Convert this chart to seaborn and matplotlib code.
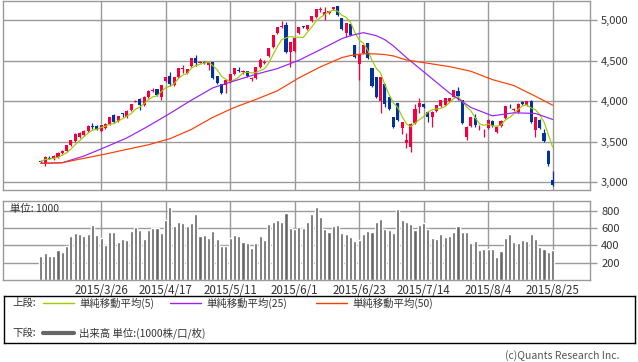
import matplotlib
matplotlib.use("Agg")

import matplotlib.pyplot as plt
import seaborn as sns
import pandas as pd

# daily candles, index 0..119
opens = [3258, 3234, 3300, 3283, 3308, 3357, 3382, 3456, 3506, 3560,
         3580, 3629, 3692, 3691, 3629, 3666, 3716, 3827, 3753, 3845,
         3802, 3889, 3995, 4025, 3950, 4049, 4130, 4148, 4049, 4247,
         4308, 4197, 4296, 4395, 4345, 4432, 4531, 4478, 4490, 4444,
         4481, 4308, 4210, 4200, 4234, 4333, 4385, 4365, 4370, 4280,
         4284, 4420, 4478, 4555, 4667, 4839, 4918, 4938, 4605, 4617,
         4839, 4925, 4889, 4987, 5037, 5130, 5062, 5086, 5136, 5173,
         5025, 4839, 4950, 4691, 4457, 4592, 4716, 4407, 4296, 4000,
         4210, 4049, 3802, 3975, 3666, 3481, 3432, 3728, 3926, 3963,
         3864, 3802, 3876, 3938, 3950, 4000, 4049, 4123, 4012, 3555,
         3691, 3790, 3675, 3625, 3666, 3753, 3617, 3691, 3790, 3945,
         3895, 3864, 3985, 3950, 4000, 3641, 3765, 3604, 3382, 3024]
closes = [3250, 3308, 3290, 3320, 3357, 3382, 3456, 3518, 3592, 3600,
          3629, 3691, 3686, 3654, 3703, 3716, 3802, 3740, 3815, 3838,
          3876, 3963, 4003, 3950, 4049, 4123, 4138, 4074, 4197, 4296,
          4210, 4296, 4407, 4405, 4395, 4531, 4469, 4486, 4470, 4481,
          4284, 4222, 4098, 4265, 4333, 4407, 4375, 4372, 4308, 4288,
          4420, 4506, 4486, 4654, 4815, 4913, 4935, 4605, 4728, 4778,
          4913, 4915, 4938, 5049, 5136, 5138, 5099, 5111, 5160, 5062,
          4889, 4963, 4815, 4543, 4580, 4691, 4531, 4185, 4049, 4296,
          3963, 3901, 3679, 3765, 3740, 3518, 3716, 3901, 3975, 3926,
          3802, 3864, 3950, 4012, 4037, 4037, 4135, 4061, 3728, 3679,
          3802, 3703, 3683, 3633, 3765, 3691, 3679, 3753, 3938, 3935,
          3905, 3963, 3970, 4000, 3740, 3802, 3666, 3506, 3222, 2962]
highs = [3270, 3315, 3320, 3330, 3365, 3395, 3462, 3525, 3600, 3615,
         3640, 3700, 3728, 3700, 3710, 3725, 3810, 3840, 3820, 3852,
         3885, 3970, 4010, 4035, 4060, 4135, 4160, 4155, 4205, 4305,
         4360, 4305, 4415, 4445, 4400, 4540, 4570, 4495, 4500, 4490,
         4490, 4315, 4215, 4275, 4340, 4415, 4420, 4385, 4378, 4300,
         4428, 4530, 4510, 4662, 4822, 4920, 4990, 4980, 4735, 4785,
         4920, 4935, 4945, 5060, 5145, 5160, 5160, 5120, 5168, 5180,
         5032, 4970, 4958, 4700, 4588, 4700, 4725, 4415, 4305, 4305,
         4218, 4057, 3810, 3983, 3748, 3600, 3724, 3960, 4040, 3970,
         3872, 3872, 3958, 4020, 4045, 4045, 4143, 4180, 4020, 3687,
         3810, 3840, 3700, 3650, 3773, 3761, 3687, 3761, 3946, 3960,
         3920, 3971, 4000, 4008, 4010, 3810, 3773, 3650, 3390, 3130]
lows = [3240, 3200, 3280, 3275, 3300, 3345, 3375, 3450, 3500, 3550,
        3570, 3620, 3650, 3645, 3615, 3660, 3710, 3730, 3745, 3800,
        3795, 3880, 3985, 3890, 3940, 4040, 4115, 4065, 4020, 4240,
        4185, 4190, 4290, 4350, 4335, 4425, 4430, 4470, 4465, 4390,
        4275, 4215, 4090, 4100, 4225, 4325, 4360, 4340, 4300, 4250,
        4275, 4410, 4460, 4548, 4660, 4830, 4910, 4600, 4420, 4610,
        4830, 4905, 4880, 4980, 5030, 5110, 5000, 5078, 5128, 5055,
        4880, 4790, 4808, 4535, 4259, 4585, 4525, 4178, 4040, 3851,
        3930, 3895, 3672, 3758, 3590, 3420, 3370, 3720, 3850, 3918,
        3740, 3680, 3868, 3930, 3942, 3992, 4041, 4020, 3720, 3520,
        3683, 3680, 3640, 3560, 3658, 3683, 3609, 3683, 3782, 3920,
        3880, 3856, 3955, 3942, 3732, 3560, 3658, 3498, 3200, 2955]
volumes = [277, 316, 277, 277, 347, 324, 393, 509, 543, 532,
           509, 532, 636, 524, 482, 405, 555, 555, 439, 474,
           462, 566, 613, 578, 474, 578, 601, 601, 543, 694,
           848, 624, 670, 659, 624, 659, 763, 509, 520, 486,
           566, 474, 393, 393, 486, 520, 509, 439, 428, 370,
           428, 509, 462, 647, 670, 694, 670, 775, 601, 590,
           613, 601, 670, 763, 844, 728, 586, 555, 624, 636,
           543, 532, 497, 451, 462, 532, 566, 555, 670, 705,
           590, 578, 543, 821, 694, 670, 647, 578, 636, 659,
           586, 486, 474, 532, 497, 509, 555, 624, 555, 555,
           428, 451, 347, 358, 358, 358, 266, 335, 486, 532,
           439, 428, 462, 451, 532, 474, 381, 358, 324, 347]

# longer moving averages
ma_days = [0, 5, 10, 15, 20, 25, 30, 35, 40, 45, 50, 55, 60, 65, 70,
           72, 75, 78, 80, 82, 85, 90, 95, 100, 105, 110, 115, 119]
ma25 = [3230, 3238, 3320, 3430, 3545, 3691, 3848, 4012, 4165, 4251, 4333, 4403,
        4506, 4638, 4774, 4811, 4848, 4811, 4761, 4683, 4540, 4321, 4102, 3922,
        3818, 3856, 3848, 3774]
ma50 = [3230, 3238, 3292, 3345, 3403, 3460, 3535, 3650, 3800, 3922, 4021, 4128,
        4288, 4424, 4539, 4565, 4588, 4585, 4576, 4560, 4510, 4469, 4428, 4370,
        4267, 4193, 4061, 3950]

date_pos = [14, 29, 44, 59, 74, 89, 104, 119]
date_labels = ["2015/3/26", "2015/4/17", "2015/5/11", "2015/6/1",
               "2015/6/23", "2015/7/14", "2015/8/4", "2015/8/25"]
price_ticks = [3000, 3500, 4000, 4500, 5000]
vol_ticks = [200, 400, 600, 800]

UP = "#f5003d"
DOWN = "#00339a"
GRID = "#9a9a9a"
TXT = "#333333"

sns.set_theme(style="white")
plt.rcParams["font.family"] = ["Noto Sans CJK JP", "DejaVu Sans"]

df = pd.DataFrame({"day": range(len(closes)), "open": opens, "close": closes,
                   "high": highs, "low": lows, "volume": volumes})
df["ma5"] = df["close"].rolling(5, min_periods=1).mean()
ma = pd.DataFrame({"day": ma_days, "ma25": ma25, "ma50": ma50})

W, H = 638, 362
fig = plt.figure(figsize=(W / 100, H / 100), dpi=100)
ax = fig.add_axes([3 / W, 1 - 190 / H, 587 / W, 189 / H])
axv = fig.add_axes([3 / W, 1 - 280 / H, 587 / W, 79 / H])

# price panel
up = df["close"] >= df["open"]
colors = [UP if u else DOWN for u in up]
body_lo = df[["open", "close"]].min(axis=1)
body_h = (df["close"] - df["open"]).abs().clip(lower=10)
ax.vlines(df["day"], df["low"], df["high"], colors=colors, lw=0.9, zorder=2)
ax.bar(df["day"], body_h, bottom=body_lo, width=0.72, color=colors, lw=0, zorder=2)
sns.lineplot(data=df, x="day", y="ma5", color="#9fcb00", lw=0.85, ax=ax, zorder=3)
sns.lineplot(data=ma, x="day", y="ma25", color="#9b1ff2", lw=0.85, ax=ax, zorder=3)
sns.lineplot(data=ma, x="day", y="ma50", color="#ff3c00", lw=0.85, ax=ax, zorder=3)

# volume panel
sns.barplot(data=df, x="day", y="volume", color="#666666", saturation=1,
            width=0.72, native_scale=True, errorbar=None, ax=axv, zorder=2)

for a, ylim, yt in [(ax, (2900, 5240), price_ticks), (axv, (0, 915), vol_ticks)]:
    a.set_xlim(-8.8, 127.7)
    a.set_ylim(*ylim)
    a.set_xticks(date_pos)
    a.set_yticks(yt)
    a.yaxis.tick_right()
    a.grid(True, color=GRID, lw=1, zorder=0)
    a.set_axisbelow(True)
    a.set_xlabel("")
    a.set_ylabel("")
    for s in a.spines.values():
        s.set_color(GRID)
        s.set_linewidth(1)
    a.tick_params(axis="y", length=5, width=1, color=GRID, labelsize=8,
                  labelcolor=TXT, pad=3)

ax.set_yticklabels([f"{v:,}" for v in price_ticks])
ax.tick_params(axis="x", length=0, labelbottom=False)
axv.set_xticklabels(date_labels)
axv.tick_params(axis="x", length=0, labelsize=8.3, labelcolor=TXT, pad=3)
axv.text(0.012, 0.9, "単位: 1000", transform=axv.transAxes, fontsize=7.5,
         color=TXT, va="center", ha="left")

# legend box, in pixel coordinates
lg = fig.add_axes([4 / W, 1 - 343 / H, 631 / W, 47 / H])
lg.set_xlim(4, 635)
lg.set_ylim(343, 296)
lg.set_xticks([])
lg.set_yticks([])
for s in lg.spines.values():
    s.set_color("black")
    s.set_linewidth(1)
lg.set_facecolor("white")

r1, r2 = 303, 333
lg.text(12, r1, "上段:", fontsize=7.5, color=TXT, va="center")
lg.text(12, r2, "下段:", fontsize=7.5, color=TXT, va="center")
for x0, col, lab in [(43, "#9fcb00", "単純移動平均(5)"),
                     (170, "#9b1ff2", "単純移動平均(25)"),
                     (316, "#ff3c00", "単純移動平均(50)")]:
    lg.plot([x0, x0 + 31], [r1, r1], color=col, lw=1)
    lg.text(x0 + 36, r1, lab, fontsize=7.5, color=TXT, va="center")
lg.plot([43, 74], [r2, r2], color="#666666", lw=3)
lg.text(79, r2, "出来高 単位:(1000株/口/枚)", fontsize=7.5, color=TXT, va="center")

fig.text(619 / W, 1 - 356 / H, "(c)Quants Research Inc.", fontsize=7.5,
         color="#555555", ha="right", va="center")

fig.savefig("out.png", dpi=100)
plt.close(fig)
